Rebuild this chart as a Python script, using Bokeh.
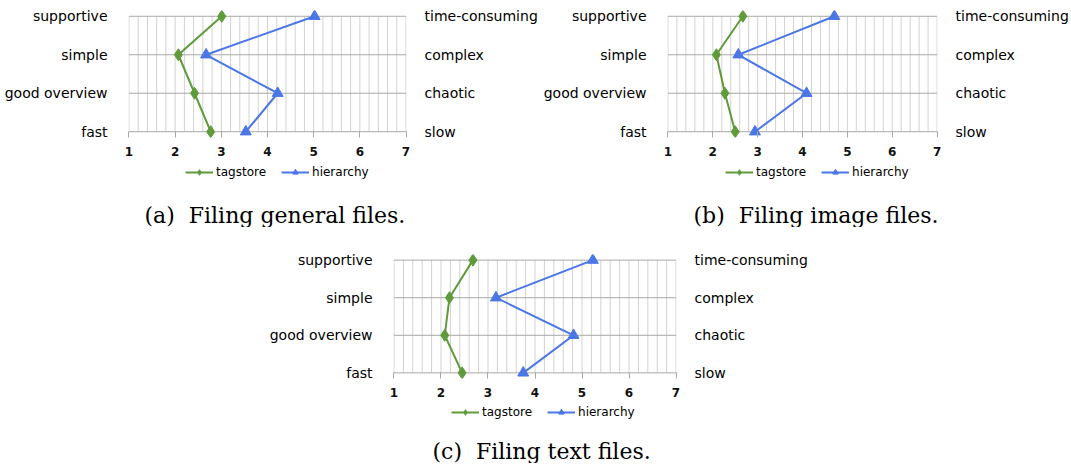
import numpy as np
from bokeh.plotting import figure
from bokeh.models import Range1d, FixedTicker, LinearAxis, Legend, LegendItem, Title
from bokeh.layouts import column, row
from bokeh.embed import file_html
from bokeh.resources import INLINE

# ---- data ----
left_labels = ["fast", "good overview", "simple", "supportive"]
right_labels = ["slow", "chaotic", "complex", "time-consuming"]
x_ticks = [1, 2, 3, 4, 5, 6, 7]

general_tagstore = [2.77, 2.42, 2.07, 3.01]
general_hierarchy = [3.53, 4.22, 2.67, 5.02]
image_tagstore = [2.50, 2.27, 2.08, 2.67]
image_hierarchy = [2.94, 4.09, 2.57, 4.71]
text_tagstore = [2.45, 2.08, 2.18, 2.68]
text_hierarchy = [3.75, 4.82, 3.17, 5.23]

captions = ["(a)\u00a0 Filing general files.",
            "(b)\u00a0 Filing image files.",
            "(c)\u00a0 Filing text files."]
series_names = ["tagstore", "hierarchy"]

GREEN = "#5f9b3a"
BLUE = "#4a76e6"
SANS = "DejaVu Sans"
SERIF = "DejaVu Serif"


def style_series(p, xs, ys, which):
    if which == 0:
        l = p.line(xs, ys, line_color=GREEN, line_width=2)
        s = p.scatter(xs, ys, marker="diamond", size=12, fill_color=GREEN, line_color=GREEN)
    else:
        l = p.line(xs, ys, line_color=BLUE, line_width=2)
        s = p.scatter(xs, ys, marker="triangle", size=11, fill_color=BLUE, line_color=BLUE)
    return l, s


def make_plot(tag, hier, width, height, bl, br, bt, bb):
    ypos = list(range(len(left_labels)))
    p = figure(width=width, height=height,
               x_range=Range1d(x_ticks[0] - 0.01, x_ticks[-1] + 0.01),
               y_range=Range1d(-0.15, ypos[-1] + 0.15),
               output_backend="svg", toolbar_location=None,
               min_border_left=bl, min_border_right=br,
               min_border_top=bt, min_border_bottom=bb,
               outline_line_color=None)
    p.xgrid.visible = False
    p.ygrid.visible = False

    # grid lines (minor vertical every 0.2, horizontal at each category)
    xs = np.round(np.arange(x_ticks[0], x_ticks[-1] + 0.001, 0.2), 2)
    p.segment(x0=xs, y0=ypos[0], x1=xs, y1=ypos[-1], line_color="#d2d2d2", line_width=1)
    p.segment(x0=x_ticks[0], y0=ypos, x1=x_ticks[-1], y1=ypos, line_color="#a8a8a8", line_width=1)

    style_series(p, tag, ypos, 0)
    style_series(p, hier, ypos, 1)

    xa = p.xaxis[0]
    xa.ticker = FixedTicker(ticks=x_ticks)
    xa.axis_line_color = None
    xa.major_tick_in = 6
    xa.major_tick_out = 0
    xa.major_tick_line_color = "#a8a8a8"
    xa.minor_tick_line_color = None
    xa.major_label_standoff = 9
    xa.major_label_text_font = SANS
    xa.major_label_text_font_size = "12px"
    xa.major_label_text_font_style = "bold"
    xa.major_label_text_color = "#111111"

    ya = p.yaxis[0]
    ya.ticker = FixedTicker(ticks=ypos)
    ya.major_label_overrides = {i: lab for i, lab in zip(ypos, left_labels)}
    ya.major_label_standoff = 15
    ra = LinearAxis(ticker=FixedTicker(ticks=ypos),
                    major_label_overrides={i: lab for i, lab in zip(ypos, right_labels)},
                    major_label_standoff=12)
    p.add_layout(ra, "right")
    for ax in (ya, ra):
        ax.axis_line_color = None
        ax.major_tick_line_color = None
        ax.minor_tick_line_color = None
        ax.major_label_text_font = SANS
        ax.major_label_text_font_size = "14px"
        ax.major_label_text_color = "#000000"
    return p


def make_legend_caption(tag, hier, caption, width, height, bl, br, legend_loc, cap_offset):
    # Legend strip: same series drawn with the same styles, but the view range
    # lies outside the data so only the legend (and caption) show.
    ypos = list(range(len(left_labels)))
    p = figure(width=width, height=height,
               x_range=Range1d(x_ticks[0], x_ticks[-1]), y_range=Range1d(10, 11),
               output_backend="svg", toolbar_location=None,
               x_axis_location=None, y_axis_location=None,
               min_border_left=bl, min_border_right=br,
               min_border_top=0, min_border_bottom=26,
               outline_line_color=None)
    p.grid.visible = False
    l1, s1 = style_series(p, tag, ypos, 0)
    l2, s2 = style_series(p, hier, ypos, 1)
    legend = Legend(items=[LegendItem(label=series_names[0], renderers=[l1, s1]),
                           LegendItem(label=series_names[1], renderers=[l2, s2])],
                    orientation="horizontal", location=legend_loc,
                    border_line_color=None, background_fill_alpha=0,
                    label_text_font=SANS, label_text_font_size="12px",
                    label_text_color="#000000",
                    glyph_width=28, glyph_height=14, label_height=14,
                    label_standoff=3, spacing=15, padding=0, margin=0)
    p.add_layout(legend, "center")
    t = Title(text=caption, align="left", offset=cap_offset, standoff=0,
              text_font=SERIF, text_font_size="22px", text_font_style="normal",
              text_color="#000000")
    p.add_layout(t, "below")
    return p


pA = make_plot(general_tagstore, general_hierarchy, 540, 164, 128, 129, 10, 27)
pA_leg = make_legend_caption(general_tagstore, general_hierarchy, captions[0], 540, 63, 128, 129, (57, 21), 16)
pB = make_plot(image_tagstore, image_hierarchy, 531, 164, 117, 130, 10, 27)
pB_leg = make_legend_caption(image_tagstore, image_hierarchy, captions[1], 531, 63, 117, 130, (58, 21), 26)
pC = make_plot(text_tagstore, text_hierarchy, 1071, 178, 393, 395, 27, 27)
pC_leg = make_legend_caption(text_tagstore, text_hierarchy, captions[2], 1071, 58, 393, 395, (58, 17), 39)

layout = column(row(column(pA, pA_leg), column(pB, pB_leg)), pC, pC_leg)
open("out.html", "w").write(file_html(layout, INLINE))
